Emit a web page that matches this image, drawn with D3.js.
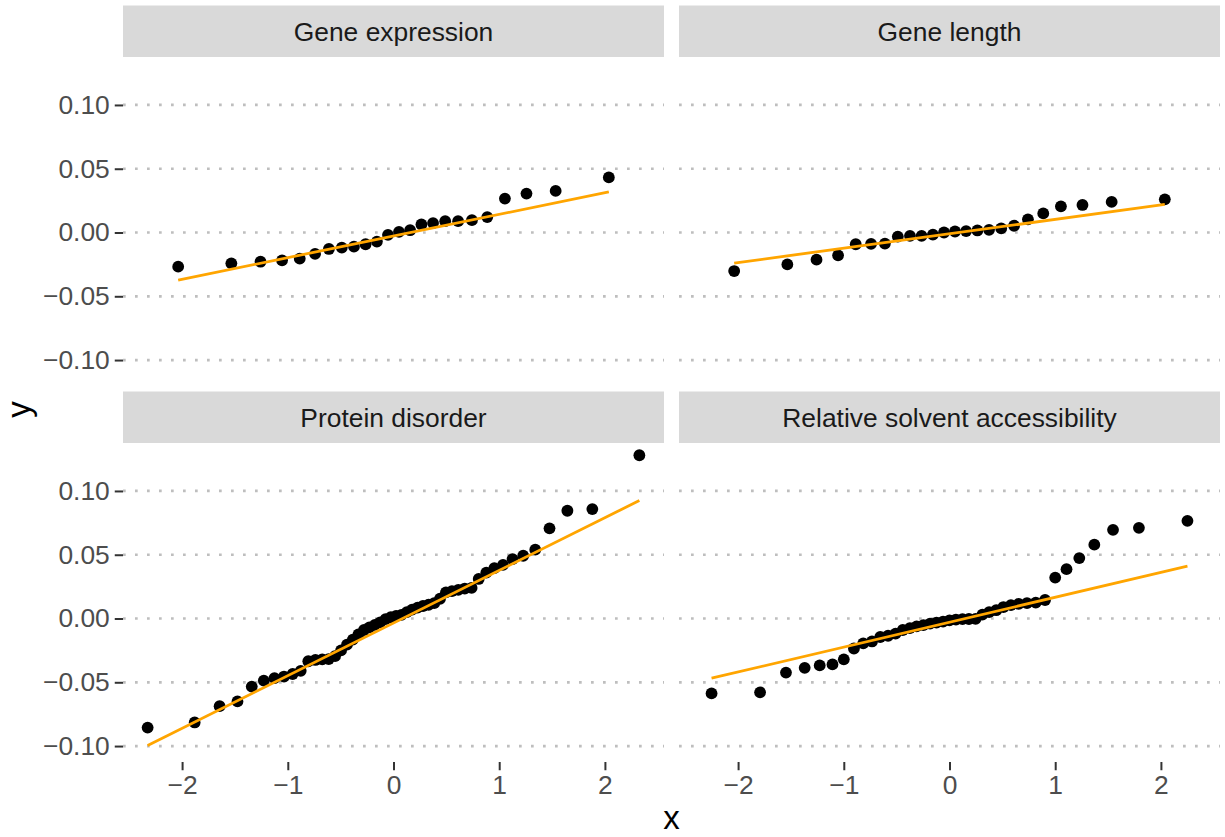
<!DOCTYPE html>
<html>
<head>
<meta charset="utf-8">
<script src="https://cdn.jsdelivr.net/npm/d3@7"></script>
<style>
  body { margin: 0; background: #ffffff; }
  svg text { font-family: "Liberation Sans", Arial, Helvetica, sans-serif; }
</style>
</head>
<body>
<svg id="chart" width="1225" height="837"></svg>
<script>
// Facet titles
const panelNames = ["Gene expression", "Gene length", "Protein disorder", "Relative solvent accessibility"];

// Theoretical normal quantiles for each sample size
const quantiles24 = [-2.037, -1.534, -1.258, -1.054, -0.887, -0.742, -0.611, -0.489, -0.374, -0.264, -0.157, -0.052,
                      0.052, 0.157, 0.264, 0.374, 0.489, 0.611, 0.742, 0.887, 1.054, 1.258, 1.534, 2.037];
const quantiles41 = [-2.251, -1.792, -1.547, -1.370, -1.228, -1.107, -1.000, -0.904, -0.816, -0.733, -0.655, -0.581,
                     -0.510, -0.442, -0.375, -0.311, -0.247, -0.184, -0.123, -0.061, 0.000, 0.061, 0.123, 0.184,
                      0.247, 0.311, 0.375, 0.442, 0.510, 0.581, 0.655, 0.733, 0.816, 0.904, 1.000, 1.107, 1.228,
                      1.370, 1.547, 1.792, 2.251];
const quantiles50 = [-2.326, -1.881, -1.645, -1.476, -1.341, -1.227, -1.126, -1.036, -0.954, -0.878, -0.806, -0.739,
                     -0.674, -0.613, -0.553, -0.496, -0.440, -0.385, -0.332, -0.279, -0.228, -0.176, -0.126, -0.075,
                     -0.025, 0.025, 0.075, 0.126, 0.176, 0.228, 0.279, 0.332, 0.385, 0.440, 0.496, 0.553, 0.613,
                      0.674, 0.739, 0.806, 0.878, 0.954, 1.036, 1.126, 1.227, 1.341, 1.476, 1.645, 1.881, 2.326];

// Sorted sample values (y)
const geneExpression = [-0.0268, -0.0242, -0.0229, -0.0218, -0.0205, -0.0168, -0.0129, -0.0118, -0.0111, -0.0092,
                        -0.0071, -0.0018, 0.0005, 0.0018, 0.0063, 0.0074, 0.0089, 0.0089, 0.0097, 0.0121,
                         0.0266, 0.0305, 0.0326, 0.0432];
const geneLength = [-0.0302, -0.0250, -0.0213, -0.0179, -0.0092, -0.0089, -0.0087, -0.0032, -0.0026, -0.0026,
                    -0.0016, 0.0000, 0.0008, 0.0011, 0.0016, 0.0021, 0.0032, 0.0053, 0.0103, 0.0150,
                     0.0205, 0.0216, 0.0240, 0.0260];
const proteinDisorder = [-0.0855, -0.0815, -0.0687, -0.0650, -0.0534, -0.0487, -0.0468, -0.0455, -0.0435, -0.0410,
                         -0.0335, -0.0325, -0.0320, -0.0318, -0.0295, -0.0250, -0.0205, -0.0165, -0.0125, -0.0090,
                         -0.0070, -0.0050, -0.0030, -0.0005, 0.0010, 0.0020, 0.0028, 0.0050, 0.0070, 0.0085,
                          0.0098, 0.0108, 0.0120, 0.0155, 0.0205, 0.0215, 0.0225, 0.0235, 0.0240, 0.0310,
                          0.0360, 0.0395, 0.0420, 0.0466, 0.0492, 0.0540, 0.0707, 0.0845, 0.0858, 0.1280];
const solventAccessibility = [-0.0587, -0.0579, -0.0424, -0.0387, -0.0368, -0.0360, -0.0320, -0.0235, -0.0195, -0.0180,
                              -0.0145, -0.0135, -0.0118, -0.0090, -0.0075, -0.0062, -0.0052, -0.0040, -0.0032, -0.0025,
                              -0.0015, -0.0008, -0.0005, -0.0004, -0.0003, 0.0030, 0.0050, 0.0065, 0.0090, 0.0105,
                               0.0115, 0.0120, 0.0125, 0.0145, 0.0321, 0.0387, 0.0474, 0.0579, 0.0695, 0.0711,
                               0.0766];

// Reference (qq) line: y at first and last theoretical quantile
const qqLineStart = [-0.0373, -0.0240, -0.0996, -0.0468];
const qqLineEnd   = [ 0.0318,  0.0220,  0.0925,  0.0410];

// Axis ticks
const xTicks = [-2, -1, 0, 1, 2];
const xTickLabels = ["\u22122", "\u22121", "0", "1", "2"];
const yTicks = [0.10, 0.05, 0.00, -0.05, -0.10];
const yTickLabels = ["0.10", "0.05", "0.00", "\u22120.05", "\u22120.10"];

const xDomain = [-2.559, 2.559];
const yDomain = [-0.1125, 0.1376];

const panels = [
  { name: panelNames[0], col: 0, row: 0, xs: quantiles24, ys: geneExpression },
  { name: panelNames[1], col: 1, row: 0, xs: quantiles24, ys: geneLength },
  { name: panelNames[2], col: 0, row: 1, xs: quantiles50, ys: proteinDisorder },
  { name: panelNames[3], col: 1, row: 1, xs: quantiles41, ys: solventAccessibility }
];
panels.forEach((p, i) => { p.lineStart = qqLineStart[i]; p.lineEnd = qqLineEnd[i]; });

// Layout
const cols = [{ x0: 123, x1: 664 }, { x0: 679, x1: 1220 }];
const rows = [{ s0: 5.5, y0: 57, y1: 376 }, { s0: 391.5, y0: 443, y1: 762 }];

const fontSize = 26.4;
const svg = d3.select("#chart");

const xScale = c => d3.scaleLinear().domain(xDomain).range([cols[c].x0, cols[c].x1]);
const yScale = r => d3.scaleLinear().domain(yDomain).range([rows[r].y1, rows[r].y0]);

panels.forEach(p => {
  const c = cols[p.col], r = rows[p.row];
  const x = xScale(p.col), y = yScale(p.row);
  const g = svg.append("g");

  // strip
  g.append("rect")
    .attr("x", c.x0).attr("y", r.s0)
    .attr("width", c.x1 - c.x0).attr("height", r.y0 - r.s0)
    .attr("fill", "#d9d9d9");
  g.append("text")
    .attr("x", (c.x0 + c.x1) / 2).attr("y", (r.s0 + r.y0) / 2)
    .attr("dy", "0.36em")
    .attr("text-anchor", "middle")
    .attr("fill", "#1a1a1a")
    .style("font-size", fontSize + "px")
    .text(p.name);

  // dotted horizontal grid
  g.selectAll("line.grid").data(yTicks).join("line")
    .attr("class", "grid")
    .attr("x1", c.x0).attr("x2", c.x1)
    .attr("y1", d => y(d)).attr("y2", d => y(d))
    .attr("stroke", "#bebebe")
    .attr("stroke-width", 2.7)
    .attr("stroke-dasharray", "2.7 9.3");

  // points
  g.selectAll("circle").data(p.xs.map((v, i) => [v, p.ys[i]])).join("circle")
    .attr("cx", d => x(d[0])).attr("cy", d => y(d[1]))
    .attr("r", 5.9)
    .attr("fill", "#000000");

  // reference line
  g.append("line")
    .attr("x1", x(p.xs[0])).attr("y1", y(p.lineStart))
    .attr("x2", x(p.xs[p.xs.length - 1])).attr("y2", y(p.lineEnd))
    .attr("stroke", "#ffa500")
    .attr("stroke-width", 2.8);

  // y axis on the left column
  if (p.col === 0) {
    const ax = svg.append("g")
      .attr("transform", `translate(${c.x0},0)`)
      .call(d3.axisLeft(y).tickValues(yTicks).tickFormat((d, i) => yTickLabels[i]).tickSize(8.25).tickPadding(5));
    ax.select(".domain").remove();
    ax.selectAll(".tick line").attr("stroke", "#333333").attr("stroke-width", 2);
    ax.selectAll(".tick text").attr("fill", "#4d4d4d")
      .style("font-size", fontSize + "px")
      .style("font-family", "'Liberation Sans', Arial, sans-serif");
  }
  // x axis on the bottom row
  if (p.row === 1) {
    const ax = svg.append("g")
      .attr("transform", `translate(0,${r.y1})`)
      .call(d3.axisBottom(x).tickValues(xTicks).tickFormat((d, i) => xTickLabels[i]).tickSize(8.25).tickPadding(5));
    ax.select(".domain").remove();
    ax.selectAll(".tick line").attr("stroke", "#333333").attr("stroke-width", 2);
    ax.selectAll(".tick text").attr("fill", "#4d4d4d")
      .style("font-size", fontSize + "px")
      .style("font-family", "'Liberation Sans', Arial, sans-serif");
  }
});

// axis titles
svg.append("text")
  .attr("x", (cols[0].x0 + cols[1].x1) / 2).attr("y", 829)
  .attr("text-anchor", "middle")
  .attr("fill", "#000000")
  .style("font-size", "33px")
  .text("x");
svg.append("text")
  .attr("transform", `translate(30,${(rows[0].y0 + rows[1].y1) / 2}) rotate(-90)`)
  .attr("text-anchor", "middle")
  .attr("fill", "#000000")
  .style("font-size", "33px")
  .text("y");
</script>
</body>
</html>
